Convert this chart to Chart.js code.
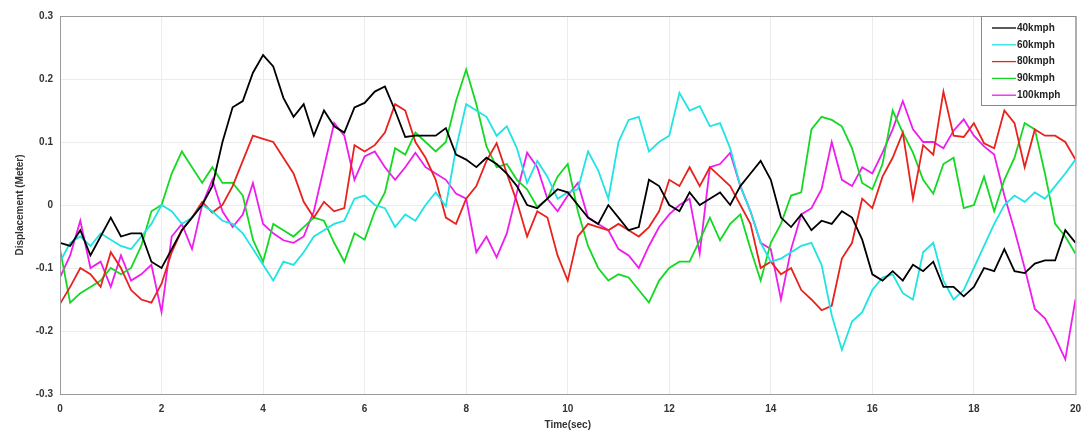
<!DOCTYPE html>
<html>
<head>
  <title>Displacement</title>
  <script src="https://cdn.jsdelivr.net/npm/chart.js"></script>
  <style>
    html, body { margin: 0; padding: 0; background: #fff; }
    #wrap { width: 1090px; height: 437px; }
  </style>
</head>
<body>
  <div id="wrap"><canvas id="dispChart" width="1090" height="437"></canvas></div>

  <script>
    // values every 0.2 s
    const labels = ['40kmph', '60kmph', '80kmph', '90kmph', '100kmph'];
    const colors = ['#000000', '#22e3e3', '#e8221c', '#14d822', '#ee1cee'];

    const kmph40 = [-0.06,-0.065,-0.04,-0.08,-0.05,-0.02,-0.05,-0.045,-0.045,-0.09,
      -0.1,-0.07,-0.04,-0.02,0.0,0.03,0.1,0.155,0.165,0.21,
      0.238,0.22,0.17,0.14,0.16,0.11,0.15,0.125,0.115,0.155,
      0.162,0.18,0.188,0.15,0.108,0.11,0.11,0.11,0.122,0.08,
      0.072,0.06,0.075,0.065,0.05,0.03,0.0,-0.005,0.01,0.025,
      0.02,0.0,-0.02,-0.03,0.0,-0.02,-0.04,-0.035,0.04,0.03,
      0.0,-0.01,0.02,0.0,0.01,0.02,0.0,0.03,0.05,0.07,
      0.04,-0.02,-0.035,-0.015,-0.04,-0.025,-0.03,-0.01,-0.02,-0.055,
      -0.11,-0.12,-0.105,-0.12,-0.095,-0.105,-0.09,-0.13,-0.13,-0.145,
      -0.13,-0.1,-0.105,-0.07,-0.105,-0.108,-0.093,-0.088,-0.088,-0.04,
      -0.06];

    const kmph60 = [-0.09,-0.06,-0.05,-0.065,-0.045,-0.055,-0.065,-0.07,-0.05,-0.03,
      0.0,-0.01,-0.03,-0.02,0.0,-0.01,-0.025,-0.03,-0.045,-0.07,
      -0.095,-0.12,-0.09,-0.095,-0.075,-0.05,-0.04,-0.03,-0.025,0.01,
      0.015,0.0,-0.005,-0.035,-0.015,-0.025,0.0,0.02,-0.002,0.09,
      0.16,0.15,0.14,0.11,0.125,0.09,0.035,0.07,0.045,0.01,
      0.02,0.025,0.085,0.055,0.01,0.1,0.135,0.14,0.085,0.1,
      0.11,0.178,0.15,0.157,0.125,0.13,0.09,0.03,-0.01,-0.06,
      -0.09,-0.085,-0.075,-0.065,-0.06,-0.095,-0.175,-0.23,-0.185,-0.17,
      -0.135,-0.115,-0.11,-0.14,-0.15,-0.075,-0.06,-0.12,-0.15,-0.135,
      -0.1,-0.065,-0.03,0.0,0.015,0.005,0.02,0.01,0.03,0.05,
      0.072];

    const kmph80 = [-0.157,-0.13,-0.1,-0.11,-0.13,-0.075,-0.1,-0.135,-0.15,-0.155,
      -0.125,-0.075,-0.04,-0.02,0.005,-0.012,0.0,0.03,0.07,0.11,
      0.105,0.1,0.075,0.05,0.005,-0.02,0.005,-0.01,-0.005,0.095,
      0.085,0.095,0.115,0.16,0.15,0.1,0.075,0.04,-0.02,-0.03,
      0.01,0.03,0.07,0.098,0.05,0.005,-0.05,-0.01,-0.02,-0.08,
      -0.12,-0.05,-0.03,-0.035,-0.04,-0.03,-0.04,-0.05,-0.035,-0.01,
      0.04,0.03,0.06,0.03,0.06,0.045,0.03,0.0,-0.03,-0.1,
      -0.09,-0.11,-0.1,-0.135,-0.15,-0.167,-0.16,-0.085,-0.06,0.01,
      -0.005,0.045,0.075,0.115,0.01,0.095,0.08,0.18,0.11,0.108,
      0.13,0.098,0.09,0.15,0.13,0.06,0.12,0.11,0.11,0.1,
      0.072];

    const kmph90 = [-0.07,-0.155,-0.14,-0.13,-0.12,-0.1,-0.11,-0.1,-0.065,-0.01,
      0.0,0.05,0.085,0.06,0.035,0.06,0.035,0.035,0.015,-0.055,
      -0.09,-0.03,-0.04,-0.05,-0.035,-0.02,-0.025,-0.06,-0.09,-0.045,
      -0.055,-0.01,0.02,0.09,0.08,0.115,0.1,0.085,0.1,0.165,
      0.215,0.16,0.093,0.06,0.065,0.04,0.025,-0.003,0.01,0.045,
      0.065,-0.01,-0.065,-0.1,-0.12,-0.11,-0.115,-0.135,-0.155,-0.12,
      -0.1,-0.09,-0.09,-0.056,-0.02,-0.056,-0.03,-0.015,-0.07,-0.12,
      -0.06,-0.03,0.015,0.02,0.12,0.14,0.135,0.125,0.09,0.035,
      0.025,0.065,0.15,0.115,0.083,0.04,0.018,0.065,0.075,-0.005,
      0.0,0.045,-0.01,0.04,0.075,0.13,0.12,0.05,-0.03,-0.05,
      -0.077];

    const kmph100 = [-0.115,-0.08,-0.025,-0.1,-0.09,-0.13,-0.08,-0.12,-0.11,-0.095,
      -0.17,-0.05,-0.03,-0.07,0.0,0.04,-0.01,-0.035,-0.015,0.035,
      -0.03,-0.045,-0.056,-0.06,-0.05,-0.01,0.06,0.13,0.11,0.04,
      0.077,0.085,0.06,0.04,0.06,0.083,0.06,0.05,0.04,0.018,
      0.01,-0.075,-0.05,-0.083,-0.045,0.02,0.083,0.06,0.01,-0.01,
      0.015,0.035,-0.02,-0.03,-0.04,-0.07,-0.08,-0.1,-0.065,-0.035,
      -0.015,0.0,0.01,-0.077,0.06,0.065,0.083,0.03,-0.01,-0.06,
      -0.07,-0.15,-0.07,-0.015,-0.005,0.025,0.1,0.04,0.03,0.06,
      0.05,0.083,0.12,0.165,0.12,0.1,0.1,0.09,0.118,0.136,
      0.11,0.093,0.08,0.015,-0.04,-0.1,-0.165,-0.18,-0.21,-0.245,
      -0.15];

    const seriesValues = [kmph40, kmph60, kmph80, kmph90, kmph100];
    const timeStep = 0.2;

    const datasets = seriesValues.map((vals, i) => ({
      label: labels[i],
      data: vals.map((v, k) => ({ x: +(k * timeStep).toFixed(1), y: v })),
      borderColor: colors[i],
      backgroundColor: colors[i],
      borderWidth: 1.8,
      pointRadius: 0,
      tension: 0,
      fill: false
    }));

    // box round the plot + legend inside the top right corner, like matlab
    const boxAndLegend = {
      id: 'boxAndLegend',
      afterDraw(chart) {
        const ctx = chart.ctx;
        const a = chart.chartArea;
        ctx.save();
        ctx.strokeStyle = '#9a9a9a';
        ctx.lineWidth = 1;
        ctx.strokeRect(a.left + 0.5, a.top + 0.5, a.right - a.left, a.bottom - a.top);

        const bx = 981, by = a.top, bw = a.right - 981, bh = 89;
        ctx.fillStyle = '#ffffff';
        ctx.fillRect(bx, by, bw, bh);
        ctx.strokeStyle = '#8a8a8a';
        ctx.strokeRect(bx + 0.5, by + 0.5, bw, bh);

        ctx.font = 'bold 10px "Liberation Sans", Arial, sans-serif';
        ctx.textBaseline = 'middle';
        chart.data.datasets.forEach((ds, i) => {
          const y = by + 12 + i * 16.8;
          ctx.strokeStyle = ds.borderColor;
          ctx.lineWidth = 1.3;
          ctx.beginPath();
          ctx.moveTo(bx + 11, y);
          ctx.lineTo(bx + 35, y);
          ctx.stroke();
          ctx.fillStyle = '#222';
          ctx.fillText(ds.label, bx + 36, y);
        });
        ctx.restore();
      }
    };

    new Chart(document.getElementById('dispChart'), {
      type: 'line',
      data: { datasets: datasets },
      options: {
        responsive: false,
        animation: false,
        layout: { padding: { top: 16, right: 14, left: 0, bottom: 0 } },
        plugins: {
          legend: { display: false },
          tooltip: { enabled: false }
        },
        scales: {
          x: {
            type: 'linear',
            min: 0,
            max: 20,
            afterFit: s => { s.height = 43; },
            ticks: {
              stepSize: 2,
              padding: 9,
              color: '#333',
              font: { family: '"Liberation Sans", Arial, sans-serif', size: 10, weight: 'bold' },
              maxRotation: 0
            },
            grid: { color: '#ececec', drawTicks: false },
            border: { display: false },
            title: {
              display: true,
              text: 'Time(sec)',
              color: '#333',
              font: { family: '"Liberation Sans", Arial, sans-serif', size: 10, weight: 'bold' },
              padding: { top: 4, bottom: 6 }
            }
          },
          y: {
            min: -0.3,
            max: 0.3,
            afterFit: s => { s.width = 60; },
            ticks: {
              stepSize: 0.1,
              padding: 7,
              color: '#333',
              font: { family: '"Liberation Sans", Arial, sans-serif', size: 10, weight: 'bold' },
              callback: v => String(Number(v.toFixed(1)))
            },
            grid: { color: '#ececec', drawTicks: false },
            border: { display: false },
            title: {
              display: true,
              text: 'Displacement (Meter)',
              color: '#333',
              font: { family: '"Liberation Sans", Arial, sans-serif', size: 10, weight: 'bold' },
              padding: { top: 14, bottom: 4 }
            }
          }
        }
      },
      plugins: [boxAndLegend]
    });
  </script>
</body>
</html>
